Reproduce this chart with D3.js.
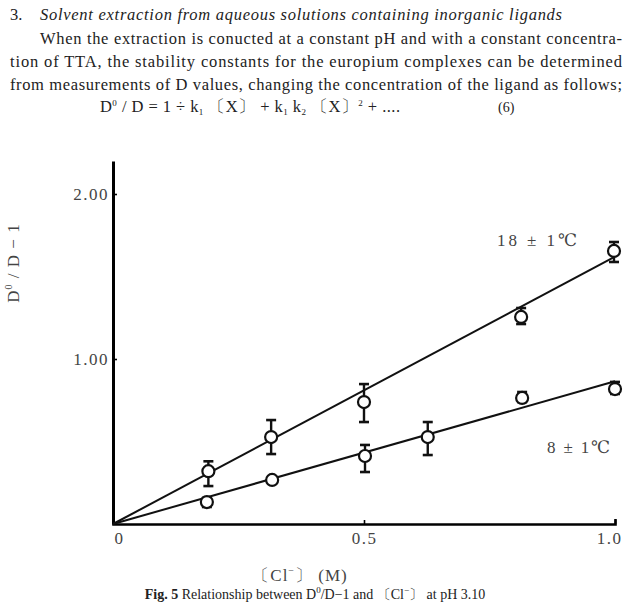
<!DOCTYPE html>
<html>
<head>
<meta charset="utf-8">
<script src="https://cdn.jsdelivr.net/npm/d3@7"></script>
<style>
  body { margin: 0; background: #fff; }
  svg { display: block; font-family: "Liberation Serif", "DejaVu Serif", serif; }
</style>
</head>
<body>
<div id="vis"></div>
<script>
const FRAME_WIDTH = 629;
const FRAME_HEIGHT = 603;

// data
const conc18 = [0.19, 0.315, 0.5, 0.813, 0.998];
const ratio18 = [0.32, 0.527, 0.739, 1.255, 1.655];
const errLo18 = [0.23, 0.424, 0.618, 1.212, 1.588];
const errHi18 = [0.38, 0.63, 0.848, 1.309, 1.709];

const conc8 = [0.187, 0.317, 0.502, 0.627, 0.815, 1.0];
const ratio8 = [0.133, 0.267, 0.412, 0.527, 0.764, 0.818];
const errLo8 = [0.103, null, 0.315, 0.418, 0.739, 0.788];
const errHi8 = [0.158, null, 0.479, 0.618, 0.8, 0.861];

const fitSlopes = [1.62, 0.865];
const seriesNames = ["18 \u00b1 1\u2103", "8 \u00b1 1\u2103"];

const xTicks = [0, 0.5, 1.0];
const xTickLabels = ["0", "0.5", "1.0"];
const yTicks = [1.0, 2.0];

const MARGINS = {left: 113, right: 14, top: 161, bottom: 79};

const SVG = d3.select("#vis")
    .append("svg")
    .attr("width", FRAME_WIDTH)
    .attr("height", FRAME_HEIGHT);

// ---- page text above the figure ----
const TEXT = SVG.append("g").attr("fill", "#222").attr("font-size", 16.5);

TEXT.append("text").attr("x", 10).attr("y", 20).text("3.");
TEXT.append("text").attr("x", 40).attr("y", 20)
    .attr("font-style", "italic")
    .attr("textLength", 522).attr("lengthAdjust", "spacing")
    .text("Solvent extraction from aqueous solutions containing inorganic ligands");

const para = [
  {x: 40, y: 44, w: 582, t: "When the extraction is conucted at a constant pH and with a constant concentra-"},
  {x: 10, y: 67, w: 612, t: "tion of TTA,  the stability constants for the europium  complexes can be determined"},
  {x: 10, y: 90, w: 612, t: "from measurements of D values,  changing the concentration of the ligand as follows;"}
];
para.forEach(p => {
  TEXT.append("text").attr("x", p.x).attr("y", p.y)
      .attr("textLength", p.w).attr("lengthAdjust", "spacing").text(p.t);
});

const eq = TEXT.append("text").attr("x", 100).attr("y", 112)
    .attr("textLength", 300).attr("lengthAdjust", "spacing");
eq.append("tspan").text("D");
eq.append("tspan").attr("font-size", 9).attr("dy", -6).text("0");
eq.append("tspan").attr("dy", 6).text(" / D = 1 \u00f7 k");
eq.append("tspan").attr("font-size", 9).attr("dy", 3).text("1");
eq.append("tspan").attr("dy", -3).text(" \u3014X\u3015 + k");
eq.append("tspan").attr("font-size", 9).attr("dy", 3).text("1");
eq.append("tspan").attr("dy", -3).text(" k");
eq.append("tspan").attr("font-size", 9).attr("dy", 3).text("2");
eq.append("tspan").attr("dy", -3).text(" \u3014X\u3015");
eq.append("tspan").attr("font-size", 9).attr("dy", -6).text("2");
eq.append("tspan").attr("dy", 6).text(" + ....");
TEXT.append("text").attr("x", 498).attr("y", 112).attr("font-size", 14).text("(6)");

// ---- scales ----
const X_SCALE = d3.scaleLinear()
    .domain([0, 1])
    .range([MARGINS.left, FRAME_WIDTH - MARGINS.right]);

const Y_SCALE = d3.scaleLinear()
    .domain([0, 2.2])
    .range([FRAME_HEIGHT - MARGINS.bottom, MARGINS.top]);

// ---- axes ----
const xAxis = SVG.append("g")
    .attr("transform", "translate(0," + Y_SCALE(0) + ")")
    .call(d3.axisBottom(X_SCALE)
        .tickValues(xTicks)
        .tickFormat((d, i) => xTickLabels[i])
        .tickSizeInner(-4)
        .tickSizeOuter(-5)
        .tickPadding(8));
xAxis.select(".domain").attr("stroke-width", 2.6);
xAxis.selectAll(".tick line").attr("stroke-width", 1.6);
xAxis.selectAll(".tick text")
    .attr("font-family", "Liberation Serif, serif")
    .attr("font-size", 17)
    .attr("letter-spacing", 1.5)
    .attr("fill", "#444")
    .attr("dx", (d, i) => i === 0 ? 6 : (i === 2 ? -6 : 0));

const yAxis = SVG.append("g")
    .attr("transform", "translate(" + X_SCALE(0) + ",0)")
    .call(d3.axisLeft(Y_SCALE)
        .tickValues(yTicks)
        .tickFormat(d3.format(".2f"))
        .tickSizeInner(-4)
        .tickSizeOuter(0)
        .tickPadding(4));
yAxis.select(".domain").attr("stroke-width", 3);
yAxis.selectAll(".tick line").attr("stroke-width", 1.6);
yAxis.selectAll(".tick text")
    .attr("font-family", "Liberation Serif, serif")
    .attr("font-size", 17)
    .attr("letter-spacing", 1.5)
    .attr("fill", "#444");

// ---- fitted lines ----
fitSlopes.forEach(s => {
  SVG.append("line")
      .attr("x1", X_SCALE(0)).attr("y1", Y_SCALE(0))
      .attr("x2", X_SCALE(1)).attr("y2", Y_SCALE(s))
      .attr("stroke", "#111")
      .attr("stroke-width", 2);
});

// ---- points with error bars ----
function drawSeries(xs, ys, lo, hi) {
  const data = xs.map((x, i) => ({x: x, y: ys[i], lo: lo[i], hi: hi[i]}));
  const withErr = data.filter(d => d.lo !== null);
  const g = SVG.append("g").attr("stroke", "#111").attr("fill", "none");
  g.selectAll(".err").data(withErr).enter().append("line")
      .attr("x1", d => X_SCALE(d.x)).attr("x2", d => X_SCALE(d.x))
      .attr("y1", d => Y_SCALE(d.lo)).attr("y2", d => Y_SCALE(d.hi))
      .attr("stroke-width", 2.4);
  ["lo", "hi"].forEach(k => {
    g.selectAll(".cap-" + k).data(withErr).enter().append("line")
        .attr("x1", d => X_SCALE(d.x) - 5).attr("x2", d => X_SCALE(d.x) + 5)
        .attr("y1", d => Y_SCALE(d[k])).attr("y2", d => Y_SCALE(d[k]))
        .attr("stroke-width", 2.6);
  });
  g.selectAll(".pt").data(data).enter().append("circle")
      .attr("cx", d => X_SCALE(d.x))
      .attr("cy", d => Y_SCALE(d.y))
      .attr("r", 6)
      .attr("fill", "#fff")
      .attr("stroke-width", 2.2);
}
drawSeries(conc18, ratio18, errLo18, errHi18);
drawSeries(conc8, ratio8, errLo8, errHi8);

// ---- series labels ----
SVG.append("text").attr("x", 497).attr("y", 246)
    .attr("font-size", 17).attr("fill", "#444")
    .attr("textLength", 80).attr("lengthAdjust", "spacing")
    .text(seriesNames[0]);
SVG.append("text").attr("x", 547).attr("y", 453)
    .attr("font-size", 17).attr("fill", "#444")
    .attr("textLength", 63).attr("lengthAdjust", "spacing")
    .text(seriesNames[1]);

// ---- axis titles ----
const yLab = SVG.append("text")
    .attr("transform", "translate(19,263) rotate(-90)")
    .attr("text-anchor", "middle")
    .attr("font-size", 17).attr("fill", "#444").attr("letter-spacing", 1);
yLab.append("tspan").text("D");
yLab.append("tspan").attr("font-size", 10).attr("dy", -7).text("0");
yLab.append("tspan").attr("dy", 7).text(" / D \u2212 1");

const xLab = SVG.append("text")
    .attr("x", 300).attr("y", 581)
    .attr("text-anchor", "middle")
    .attr("font-size", 17).attr("fill", "#444").attr("letter-spacing", 1);
xLab.append("tspan").text("\u3014Cl");
xLab.append("tspan").attr("font-size", 10).attr("dy", -7).text("\u2212");
xLab.append("tspan").attr("dy", 7).text("\u3015  (M)");

// ---- caption ----
const cap = SVG.append("text")
    .attr("x", 315).attr("y", 599)
    .attr("text-anchor", "middle")
    .attr("font-size", 14).attr("fill", "#222");
cap.append("tspan").attr("font-weight", "bold").text("Fig. 5  ");
cap.append("tspan").text("Relationship between D");
cap.append("tspan").attr("font-size", 9).attr("dy", -6).text("0");
cap.append("tspan").attr("dy", 6).text("/D\u22121 and \u3014Cl");
cap.append("tspan").attr("font-size", 9).attr("dy", -6).text("\u2212");
cap.append("tspan").attr("dy", 6).text("\u3015 at pH 3.10");
</script>
</body>
</html>
